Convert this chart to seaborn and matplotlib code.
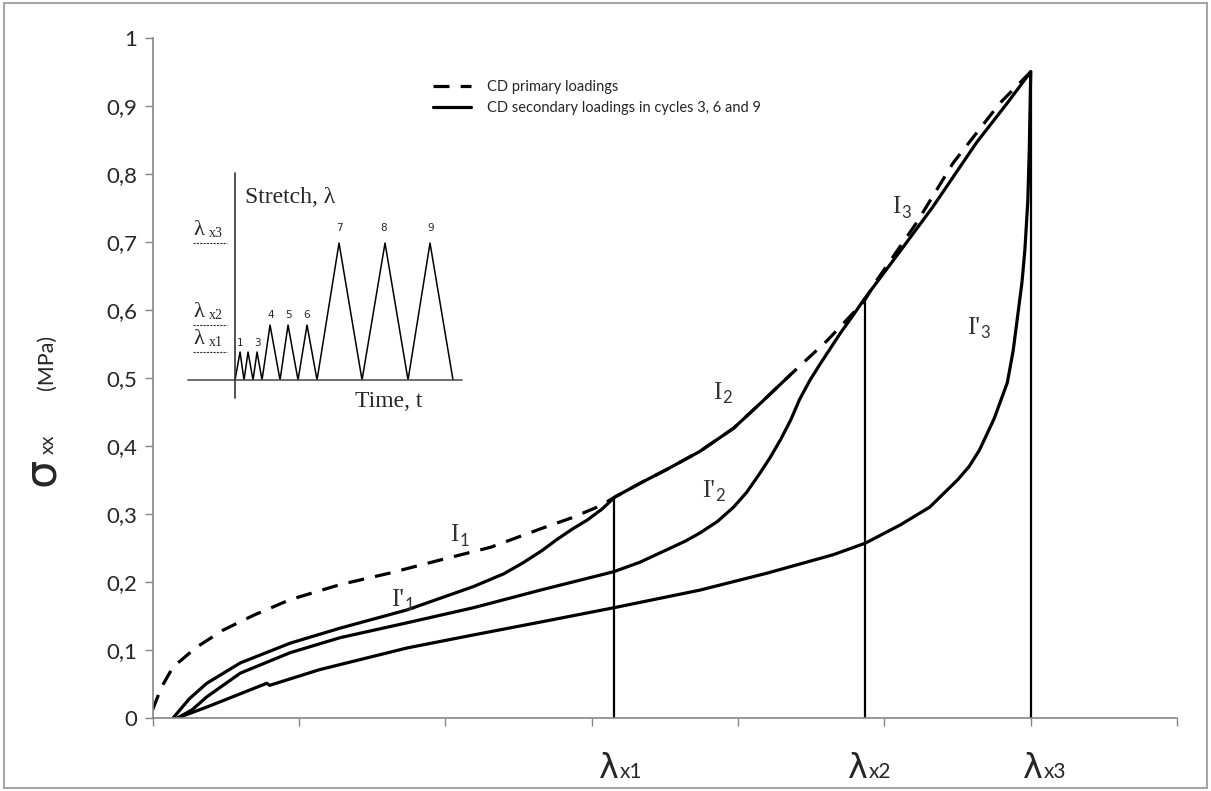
import matplotlib
matplotlib.use("Agg")
import matplotlib.pyplot as plt
import matplotlib.patches as mpatches
import seaborn as sns

# primary loading (dashed)
prim_x = [0.0, 0.06, 0.14, 0.30, 0.48, 0.69, 0.94, 1.28, 1.62, 1.96, 2.31, 2.65, 2.86, 3.06, 3.16,
          3.33, 3.51, 3.74, 3.97, 4.15, 4.36, 4.61, 4.86, 4.95, 5.22, 5.47, 5.79, 6.0]
prim_y = [0.012, 0.045, 0.075, 0.104, 0.129, 0.151, 0.174, 0.196, 0.213, 0.232, 0.251, 0.278, 0.294,
          0.312, 0.325, 0.345, 0.365, 0.392, 0.426, 0.462, 0.505, 0.555, 0.612, 0.644, 0.728, 0.816,
          0.904, 0.95]

# secondary loadings (solid)
cyc3_x = [0.14, 0.25, 0.37, 0.60, 0.94, 1.28, 1.74, 2.19, 2.40, 2.53, 2.66, 2.76, 2.87, 2.97, 3.07,
          3.16, 3.33, 3.51, 3.74, 3.97, 4.15, 4.36]
cyc3_y = [0.0, 0.028, 0.051, 0.081, 0.110, 0.132, 0.159, 0.193, 0.212, 0.228, 0.246, 0.262, 0.278,
          0.291, 0.307, 0.325, 0.345, 0.365, 0.392, 0.426, 0.462, 0.505]
cyc6_x = [0.17, 0.27, 0.37, 0.60, 0.94, 1.28, 1.74, 2.19, 2.65, 3.15, 3.33, 3.51, 3.64, 3.74, 3.86,
          3.97, 4.06, 4.15, 4.22, 4.29, 4.36, 4.42, 4.49, 4.56, 4.63, 4.70, 4.78, 4.86, 5.10, 5.33,
          5.63, 5.84, 6.0]
cyc6_y = [0.0, 0.012, 0.031, 0.066, 0.096, 0.118, 0.14, 0.162, 0.188, 0.215, 0.229, 0.247, 0.26,
          0.272, 0.289, 0.31, 0.332, 0.36, 0.383, 0.409, 0.438, 0.468, 0.496, 0.52, 0.543, 0.566,
          0.59, 0.615, 0.684, 0.751, 0.846, 0.904, 0.95]
cyc9_x = [0.17, 0.37, 0.78, 0.80, 1.14, 1.74, 2.19, 2.65, 3.15, 3.74, 4.20, 4.65, 4.87, 5.11, 5.31,
          5.50, 5.58, 5.65, 5.75, 5.84, 5.88, 5.91, 5.94, 5.96, 5.98, 5.99, 6.0]
cyc9_y = [0.0, 0.016, 0.051, 0.048, 0.071, 0.103, 0.122, 0.141, 0.162, 0.188, 0.213, 0.24, 0.257,
          0.284, 0.31, 0.35, 0.37, 0.394, 0.44, 0.493, 0.54, 0.59, 0.64, 0.688, 0.76, 0.835, 0.95]

# unloading verticals at the stretch levels
lam_x = [3.15, 4.87, 6.0]
lam_top = [0.325, 0.615, 0.95]
lam_names = ["x1", "x2", "x3"]
lam_label_x = [3.05, 4.75, 5.95]

y_ticks = [0, 0.1, 0.2, 0.3, 0.4, 0.5, 0.6, 0.7, 0.8, 0.9, 1]
y_tick_labels = ["0", "0,1", "0,2", "0,3", "0,4", "0,5", "0,6", "0,7", "0,8", "0,9", "1"]

# curve labels: (text, subscript, x, y)
curve_labels = [("I", "1", 2.09, 0.269), ("I'", "1", 1.72, 0.174),
                ("I", "2", 3.89, 0.478), ("I'", "2", 3.84, 0.334),
                ("I", "3", 5.11, 0.751), ("I'", "3", 5.65, 0.574)]

# inset schematic: stretch history
inset_t = [0.0, 0.05, 0.09, 0.13, 0.18, 0.22, 0.27, 0.35, 0.45, 0.53, 0.63, 0.72, 0.82,
           1.04, 1.27, 1.50, 1.73, 1.95, 2.18]
inset_s = [0.0, 0.28, 0.0, 0.28, 0.0, 0.28, 0.0, 0.55, 0.0, 0.55, 0.0, 0.55, 0.0,
           1.37, 0.0, 1.37, 0.0, 1.37, 0.0]
inset_levels = [0.28, 0.55, 1.37]
cycle_nums = ["1", "3", "4", "5", "6", "7", "8", "9"]
cycle_t = [0.05, 0.22, 0.36, 0.53, 0.72, 1.04, 1.49, 1.96]
cycle_s = [0.37, 0.37, 0.65, 0.65, 0.65, 1.52, 1.52, 1.52]

sns.set_theme(style="white")
plt.rcParams["font.family"] = ["Lato", "DejaVu Sans"]

fig = plt.figure(figsize=(12.11, 7.91), dpi=100)
ax = fig.add_axes([0.126, 0.0923, 0.846, 0.86])

lw = 2.3
line_kw = dict(ax=ax, color="black", lw=lw, sort=False, estimator=None)
sns.lineplot(x=prim_x, y=prim_y, linestyle=(0, (5, 3.5)), label="CD primary loadings", **line_kw)
sns.lineplot(x=cyc3_x, y=cyc3_y, label="CD secondary loadings in cycles 3, 6 and 9", **line_kw)
sns.lineplot(x=cyc6_x, y=cyc6_y, **line_kw)
sns.lineplot(x=cyc9_x, y=cyc9_y, **line_kw)
for ln in ax.lines:
    ln.set_solid_joinstyle("round")
    ln.set_dash_capstyle("butt")
ax.vlines(lam_x, 0, lam_top, color="black", lw=1.6)

ax.set_xlim(0, 7)
ax.set_ylim(0, 1)
ax.set_xticks(range(8))
ax.set_xticklabels([])
ax.set_yticks(y_ticks)
ax.set_yticklabels(y_tick_labels, fontsize=16)
ax.tick_params(axis="both", direction="out", length=6, width=1, color="#868686", left=True,
               bottom=True, pad=5)
for side in ["top", "right"]:
    ax.spines[side].set_visible(False)
for side in ["left", "bottom"]:
    ax.spines[side].set_color("#868686")
    ax.spines[side].set_linewidth(1.2)
ax.set_xlabel("")
ax.set_ylabel("")

ax.legend(frameon=False, loc="upper left", bbox_to_anchor=(0.347, 0.915),
          bbox_transform=fig.transFigure, fontsize=10.5, handlelength=2.6,
          labelspacing=0.45, handletextpad=1.1)

for txt, sub, x, y in curve_labels:
    ax.text(x, y, txt, ha="right", va="center", fontsize=18, color="#333333",
            family=["Liberation Serif", "DejaVu Serif"])
    ax.annotate(sub, xy=(x, y), xytext=(0.5, -4), textcoords="offset points",
                ha="left", va="center", fontsize=12, color="#333333")

for name, lx in zip(lam_names, lam_label_x):
    ax.text(lx, -0.088, "λ", ha="left", va="baseline", fontsize=24,
            family=["DejaVu Sans"], clip_on=False)
    ax.annotate(name, xy=(lx, -0.088), xycoords="data", xytext=(15, 0),
                textcoords="offset points", ha="left", va="baseline", fontsize=15,
                annotation_clip=False)

# y label pieces
fig.text(0.034, 0.403, "σ", rotation=90, ha="center", va="center", fontsize=32,
         family=["DejaVu Sans"])
fig.text(0.040, 0.438, "xx", rotation=90, ha="center", va="center", fontsize=14)
fig.text(0.039, 0.542, "(MPa)", rotation=90, ha="center", va="center", fontsize=15.5)

# inset
ax_in = fig.add_axes([0.1528, 0.469, 0.2312, 0.316])
ax_in.set_xlim(-0.5, 2.3)
ax_in.set_ylim(-0.4, 2.1)
ax_in.axis("off")
ax_in.patch.set_alpha(0)
sns.lineplot(x=inset_t, y=inset_s, ax=ax_in, color="black", lw=1.1, sort=False, estimator=None)
ax_in.axhline(0, xmin=0.01, xmax=0.99, color="#555555", lw=1.2)
ax_in.axvline(0, ymin=0.088, ymax=0.988, color="#333333", lw=1.2)
ax_in.hlines(inset_levels, -0.42, -0.08, color="#333333", lw=0.8, linestyles=(0, (2, 1)))
serif = ["Liberation Serif", "DejaVu Serif"]
for lev, name in zip(inset_levels, lam_names):
    ax_in.text(-0.42, lev + 0.03, "λ", ha="left", va="bottom", fontsize=16, family=serif)
    ax_in.text(-0.26, lev + 0.03, name, ha="left", va="bottom", fontsize=10, family=serif)
for n, t, s in zip(cycle_nums, cycle_t, cycle_s):
    ax_in.text(t, s, n, ha="center", va="center", fontsize=7.5, family=["DejaVu Sans"])
ax_in.text(0.1, 1.83, "Stretch, λ", ha="left", va="center", fontsize=17, family=serif)
ax_in.text(1.2, -0.21, "Time, t", ha="left", va="center", fontsize=17, family=serif)

fig.patches.append(mpatches.Rectangle((0.003, 0.004), 0.994, 0.992, transform=fig.transFigure,
                                      fill=False, edgecolor="#a6a6a6", lw=1.5))

plt.savefig("out.png", dpi=100)
